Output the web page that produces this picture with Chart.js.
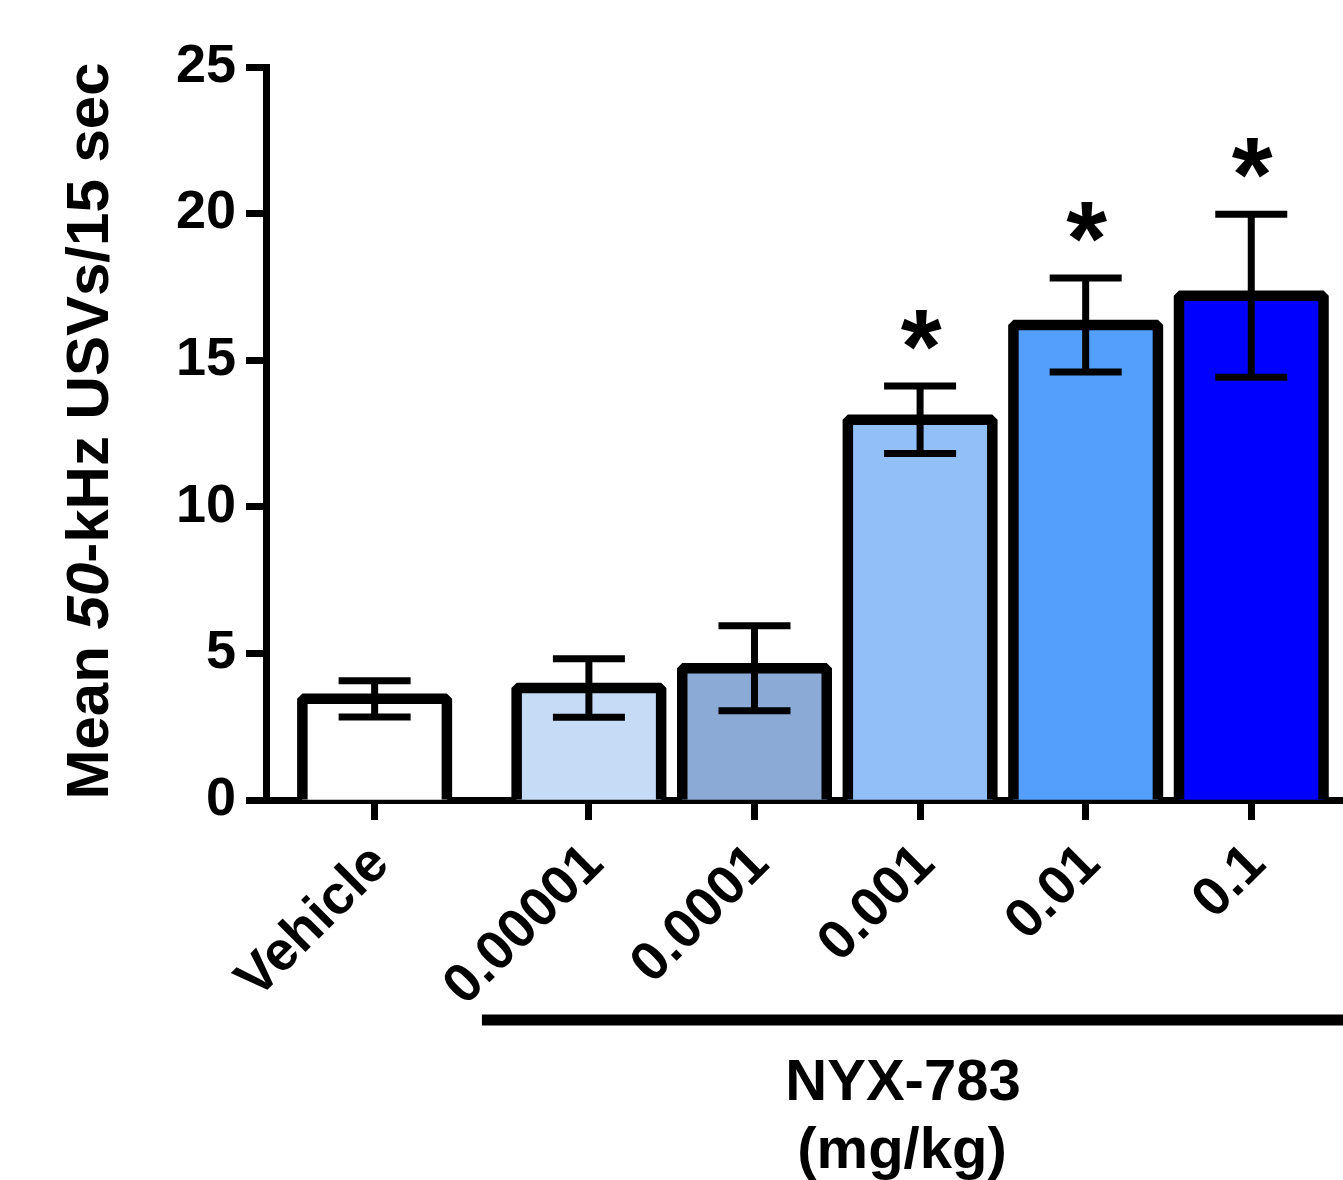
<!DOCTYPE html>
<html>
<head>
<meta charset="utf-8">
<script src="https://cdn.jsdelivr.net/npm/chart.js@4.4.1/dist/chart.umd.min.js"></script>
<style>
  html, body { margin: 0; padding: 0; background: #fff; }
</style>
</head>
<body>
<canvas id="chart1" width="1343" height="1180"></canvas>
<script>
const categories = ["Vehicle", "0.00001", "0.0001", "0.001", "0.01", "0.1"];
const meanUSVs = [3.45, 3.82, 4.49, 12.97, 16.2, 17.2];
const semUSVs = [0.62, 1.0, 1.45, 1.15, 1.6, 2.78];
const significant = [false, false, false, true, true, true];
const yTicks = [0, 5, 10, 15, 20, 25];
const barColors = ["#FFFFFF", "#C6DBF6", "#8CAAD6", "#92BFF8", "#539FFB", "#0000FF"];
// vehicle sits a bit apart from the NYX-783 doses
const xSlots = [0, 1.294, 2.294, 3.294, 4.294, 5.294];

const FONT = "'Liberation Sans', Arial, sans-serif";

// bar outlines + error bars + asterisks, GraphPad style
const errorBarsPlugin = {
  id: "errorBars",
  afterDatasetsDraw(chart) {
    const ctx = chart.ctx;
    const yScale = chart.scales.y;
    const meta = chart.getDatasetMeta(0);
    ctx.save();
    ctx.strokeStyle = "#000";
    meta.data.forEach((bar, i) => {
      const { x, y, base, width } = bar.getProps(["x", "y", "base", "width"], true);
      // outline, centered on the value like the original
      ctx.lineWidth = 10.5;
      ctx.lineJoin = "bevel";
      ctx.beginPath();
      ctx.moveTo(x - width / 2, base);
      ctx.lineTo(x - width / 2, y);
      ctx.lineTo(x + width / 2, y);
      ctx.lineTo(x + width / 2, base);
      ctx.stroke();

      const hi = yScale.getPixelForValue(meanUSVs[i] + semUSVs[i]);
      const lo = yScale.getPixelForValue(meanUSVs[i] - semUSVs[i]);
      ctx.lineWidth = 7;
      ctx.beginPath();
      ctx.moveTo(x, hi);
      ctx.lineTo(x, lo);
      ctx.moveTo(x - 36, hi);
      ctx.lineTo(x + 36, hi);
      ctx.moveTo(x - 36, lo);
      ctx.lineTo(x + 36, lo);
      ctx.stroke();

      if (significant[i]) {
        ctx.font = "bold 105px " + FONT;
        ctx.fillStyle = "#000";
        ctx.textAlign = "center";
        ctx.textBaseline = "alphabetic";
        const m = ctx.measureText("*");
        const glyphBottom = hi - 3.5 - 33;
        ctx.fillText("*", x + 1, glyphBottom - m.actualBoundingBoxDescent);
      }
    });
    ctx.restore();
  },
  afterDraw(chart) {
    const ctx = chart.ctx;
    const xScale = chart.scales.x;
    ctx.save();
    ctx.fillStyle = "#000";

    // y axis title with italic "50"
    const parts = [
      ["Mean ", "bold 60px " + FONT],
      ["50", "italic bold 60px " + FONT],
      ["-kHz USVs/15 sec", "bold 60px " + FONT],
    ];
    let total = 0;
    parts.forEach(p => { ctx.font = p[1]; total += ctx.measureText(p[0]).width; });
    ctx.translate(108, 431);
    ctx.rotate(-Math.PI / 2);
    ctx.textBaseline = "alphabetic";
    ctx.textAlign = "left";
    let pos = -total / 2;
    parts.forEach(p => {
      ctx.font = p[1];
      ctx.fillText(p[0], pos, 0);
      pos += ctx.measureText(p[0]).width;
    });
    ctx.setTransform(1, 0, 0, 1, 0, 0);

    // group bracket under the doses
    const startX = xScale.getPixelForValue(xSlots[1]) - 107;
    ctx.fillRect(startX, 1014.5, chart.width - startX, 11);

    ctx.font = "bold 58px " + FONT;
    ctx.textAlign = "center";
    ctx.textBaseline = "alphabetic";
    ctx.fillText("NYX-783", 903, 1100);
    ctx.fillText("(mg/kg)", 902, 1168);
    ctx.restore();
  },
};

let chart1 = document.getElementById("chart1");
let config1 = {
  type: "bar",
  data: {
    datasets: [
      {
        data: xSlots.map((x, i) => ({ x: x, y: meanUSVs[i] })),
        backgroundColor: barColors,
        borderWidth: 0,
        barThickness: 144.5,
      },
    ],
  },
  options: {
    responsive: false,
    animation: false,
    devicePixelRatio: 1,
    layout: {
      padding: { top: 67, left: 0, right: 0, bottom: 0 },
    },
    scales: {
      x: {
        type: "linear",
        offset: false,
        min: -0.656,
        max: 5.848,
        afterBuildTicks: (scale) => {
          scale.ticks = xSlots.map((v) => ({ value: v }));
        },
        afterFit: (scale) => {
          scale.height = 380;
        },
        ticks: {
          autoSkip: false,
          minRotation: 45,
          maxRotation: 45,
          padding: 12,
          labelOffset: 6,
          color: "#000",
          font: { family: FONT, weight: "bold", size: 55 },
          callback: (val, idx) => categories[idx],
        },
        grid: {
          offset: false,
          drawOnChartArea: false,
          drawTicks: true,
          tickLength: 20,
          tickWidth: 7,
          tickColor: "#000",
        },
        border: { color: "#000", width: 7 },
      },
      y: {
        min: 0,
        max: 25,
        afterBuildTicks: (scale) => {
          scale.ticks = yTicks.map((v) => ({ value: v }));
        },
        afterFit: (scale) => {
          scale.width = 266;
        },
        ticks: {
          padding: 10,
          color: "#000",
          font: { family: FONT, weight: "bold", size: 54 },
        },
        grid: {
          drawOnChartArea: false,
          drawTicks: true,
          tickLength: 20,
          tickWidth: 7,
          tickColor: "#000",
        },
        border: { color: "#000", width: 7 },
      },
    },
    plugins: {
      legend: { display: false },
      tooltip: { enabled: false },
    },
  },
  plugins: [errorBarsPlugin],
};

let barChart = new Chart(chart1, config1);
</script>
</body>
</html>
